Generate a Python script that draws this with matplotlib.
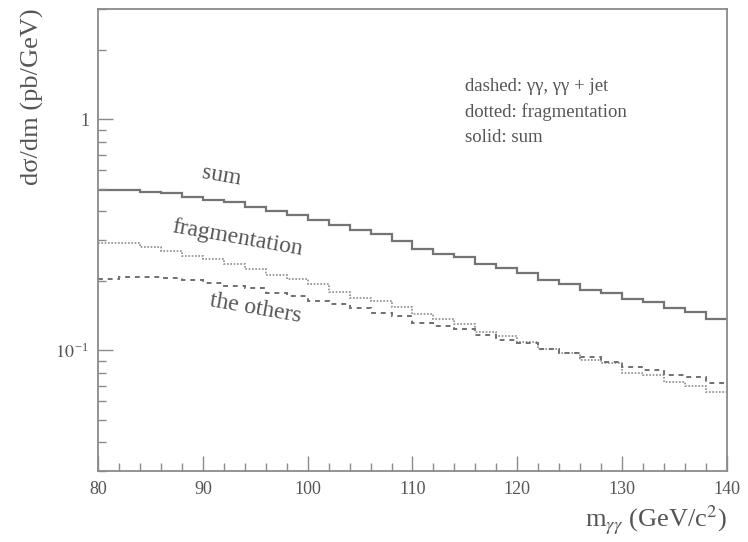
import matplotlib
matplotlib.use("Agg")
import matplotlib.pyplot as plt
import numpy as np
from matplotlib.ticker import MultipleLocator, LogLocator, NullFormatter

plt.rcParams['font.family'] = ['Liberation Serif', 'DejaVu Serif']
plt.rcParams['mathtext.fontset'] = 'stix'

# histogram bins: 2 GeV wide, 80..140 GeV
bin_edges = np.arange(80, 141, 2)

# solid: sum
sum_vals = [0.493, 0.493, 0.484, 0.477, 0.461, 0.446, 0.436, 0.417, 0.401, 0.384,
            0.368, 0.348, 0.333, 0.318, 0.296, 0.274, 0.262, 0.252, 0.237, 0.226,
            0.215, 0.202, 0.194, 0.183, 0.177, 0.166, 0.162, 0.152, 0.1465, 0.137]
# dotted: fragmentation
frag_vals = [0.290, 0.290, 0.280, 0.270, 0.257, 0.248, 0.237, 0.225, 0.211, 0.203,
             0.194, 0.179, 0.169, 0.163, 0.1535, 0.143, 0.136, 0.130, 0.120, 0.115,
             0.1086, 0.1017, 0.0968, 0.0905, 0.0881, 0.0797, 0.0779, 0.0729, 0.0701, 0.0660]
# dashed: gamma gamma, gamma gamma + jet ("the others")
other_vals = [0.204, 0.208, 0.208, 0.206, 0.201, 0.195, 0.189, 0.185, 0.177, 0.171,
              0.164, 0.159, 0.153, 0.145, 0.140, 0.131, 0.127, 0.123, 0.116, 0.111,
              0.1075, 0.1017, 0.0968, 0.0935, 0.0890, 0.0847, 0.0825, 0.0779, 0.0762, 0.0718]

legend_lines = ["dashed: γγ, γγ + jet", "dotted: fragmentation", "solid: sum"]

fig = plt.figure(figsize=(7.48, 5.42), dpi=100)
ax = fig.add_axes([98 / 748, 1 - 471 / 542, (727 - 98) / 748, (471 - 9) / 542])

ax.stairs(sum_vals, bin_edges, baseline=None, color="#747474", lw=1.6)
ax.stairs(frag_vals, bin_edges, baseline=None, color="#8c8c8c", lw=1.2, linestyle=(0, (1, 1)))
ax.stairs(other_vals, bin_edges, baseline=None, color="#707070", lw=1.4, linestyle=(0, (2.5, 2.5)))

ax.set_yscale("log")
ax.set_xlim(80, 140)
ax.set_ylim(0.03, 3)

ax.xaxis.set_major_locator(MultipleLocator(10))
ax.xaxis.set_minor_locator(MultipleLocator(2))
ax.set_yticks([0.1, 1])
ax.set_yticklabels([r"$10^{\,\mathregular{-1}}$", "1"])
ax.yaxis.set_minor_locator(LogLocator(base=10, subs=np.arange(2, 10)))
ax.yaxis.set_minor_formatter(NullFormatter())

spine_col = "#8a8a8a"
for s in ax.spines.values():
    s.set_color(spine_col)
    s.set_linewidth(1.3)
ax.tick_params(which="both", direction="in", color=spine_col, labelcolor="#555555",
               labelsize=13, top=False, right=False)
ax.tick_params(which="major", length=11, width=1.0)
ax.tick_params(which="minor", length=6, width=1.0)
ax.tick_params(axis="x", pad=7)
ax.tick_params(axis="y", pad=6)

# curve labels
lab_col = "#555555"
ax.text(91.8, 0.565, "sum", rotation=-10, fontsize=17, color=lab_col, ha="center", va="center")
ax.text(93.3, 0.305, "fragmentation", rotation=-10, fontsize=17, color=lab_col, ha="center", va="center")
ax.text(95.0, 0.152, "the others", rotation=-10, fontsize=17, color=lab_col, ha="center", va="center")

# legend-like annotation
for i, t in enumerate(legend_lines):
    fig.text(465 / 748, 1 - (87 + 25.5 * i) / 542, t, fontsize=13.5, color="#555555",
             ha="left", va="center")

fig.text(32 / 748, 1 - 8 / 542, "dσ/dm (pb/GeV)", rotation=90, fontsize=19,
         color="#555555", ha="center", va="top")
fig.text(727 / 748, 1 - 520 / 542, r"m$_{\gamma\gamma}$ (GeV/c$^2$)", fontsize=19,
         color="#555555", ha="right", va="center")

fig.savefig("out.png", dpi=100)
